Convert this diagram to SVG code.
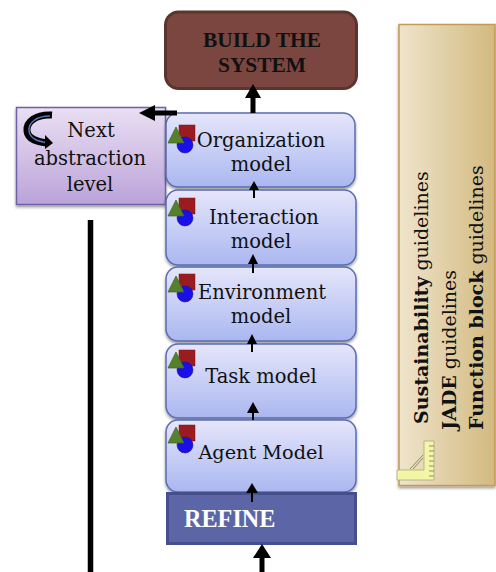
<svg xmlns="http://www.w3.org/2000/svg" width="496" height="572" viewBox="0 0 496 572">
<style>
text{font-family:"DejaVu Serif","Liberation Serif",serif;fill:#111}
.m{font-size:19.500px;text-anchor:middle}
.s{font-size:19.300px;text-anchor:middle}
.box{stroke:#5a6cb0;stroke-width:1.5;fill:url(#blue);filter:url(#sh)}
.con{stroke:#000;fill:none}
.g{font-size:19px}
.b{font-weight:bold}
.h{font-family:"Liberation Serif","DejaVu Serif",serif;font-weight:bold}
</style>
<defs>
<linearGradient id="blue" x1="0" y1="0" x2="0" y2="1"><stop offset="0" stop-color="#e6e6fb"/><stop offset="1" stop-color="#aab7f0"/></linearGradient>
<linearGradient id="purple" x1="0" y1="0" x2="0" y2="1"><stop offset="0" stop-color="#eadff3"/><stop offset="1" stop-color="#bba3d9"/></linearGradient>
<linearGradient id="tan" x1="0" y1="0" x2="1" y2="0"><stop offset="0" stop-color="#efe4cc"/><stop offset="1" stop-color="#d2b97f"/></linearGradient>
<filter id="sh" x="-10%" y="-10%" width="120%" height="125%"><feDropShadow dx="0" dy="2" stdDeviation="1.5" flood-color="#000" flood-opacity=".4"/></filter>
<g id="icon">
<rect x="11" y="0" width="16" height="16" fill="#9b1c20" stroke="#7a1518" stroke-width=".5"/>
<circle cx="17" cy="20" r="8" fill="#1a0fe6" stroke="#10108a" stroke-width=".5"/>
<path d="M8 2 L16 18 L0 18Z" fill="#55802c" stroke="#3f6320" stroke-width=".7"/>
</g>
</defs>
<g id="build"><rect x="165.500" y="12" width="191" height="76.500" rx="13" fill="#7c4640" stroke="#5b3430" stroke-width="3"/>
<text x="262" y="47" text-anchor="middle" class="h" font-size="21.400">BUILD THE</text><text x="262" y="72" text-anchor="middle" class="h" font-size="21.400">SYSTEM</text></g>
<g id="next"><rect x="16.500" y="107.500" width="149" height="97" fill="url(#purple)" stroke="#6c62a8" stroke-width="1.500" filter="url(#sh)"/>
<path d="M52 115 C36 114 26 122 27 131 C28 140 38 142 48 143" fill="none" stroke="#000" stroke-width="7"/>
<path d="M50 116 C36 116 28 123 29 131 C30 139 38 141 47 143" fill="none" stroke="#5b74b8" stroke-width="1.500"/>
<path d="M45 135 L53 143 L45 149Z" fill="#000"/>
<text x="91" y="137" class="m">Next</text><text x="90" y="165" class="m">abstraction</text><text x="90" y="191" class="m">level</text></g>
<g id="org"><rect class="box" x="166" y="113" width="189" height="74" rx="12"/><use href="#icon" x="168" y="125"/><text x="261" y="147" class="m">Organization</text><text x="261" y="171" class="m">model</text></g>
<g id="inter"><rect class="box" x="166" y="190" width="190" height="75" rx="12"/><use href="#icon" x="168" y="198"/><text x="264" y="224" class="m">Interaction</text><text x="261" y="248" class="m">model</text></g>
<g id="env"><rect class="box" x="166" y="267" width="190" height="74" rx="12"/><use href="#icon" x="168" y="274"/><text x="262" y="299" class="m">Environment</text><text x="261" y="323" class="m">model</text></g>
<g id="task"><rect class="box" x="166" y="344" width="190" height="74" rx="12"/><use href="#icon" x="168" y="350"/><text x="261" y="383" class="m">Task model</text></g>
<g id="agent"><rect class="box" x="166" y="420" width="190" height="72" rx="12"/><use href="#icon" x="168" y="425"/><text x="261" y="459" class="s">Agent Model</text></g>
<g id="refine"><rect x="167.500" y="493.500" width="188" height="50" fill="#5c66a6" stroke="#454f8c" stroke-width="3"/><text x="184" y="527" class="h" font-size="24.200" style="fill:#fff">REFINE</text></g>
<g id="guidelines"><rect x="399" y="24.500" width="96" height="461" fill="url(#tan)" stroke="#c49a58" stroke-width="1.500" filter="url(#sh)"/>
<text transform="translate(428 424) rotate(-90)" class="g"><tspan class="b">Sustainability</tspan> guidelines</text>
<text transform="translate(456 430) rotate(-90)" class="g"><tspan class="b">JADE</tspan> guidelines</text>
<text transform="translate(483 430) rotate(-90)" class="g"><tspan class="b">Function block</tspan> guidelines</text>
<path d="M397 470 H424 V441 H434 V480 H397Z" fill="#f5f5a8" stroke="#a8a878" stroke-width=".8"/>
<path d="M410 469 L423 455 M413 469 L423 458" stroke="#8a8a60" fill="none"/>
<path d="M429 446H434M429 451H434M429 456H434M429 461H434M429 466H434M429 471H434M429 476H434" stroke="#666" stroke-width=".7"/></g>
<g id="connectors">
<path class="con" stroke-width="5" d="M253 113V93"/><path d="M253 84L261 98H245Z"/>
<path class="con" stroke-width="5" d="M177 113H152"/><path d="M139 113L155 105V121Z"/>
<path class="con" stroke-width="5.500" d="M90.500 220V572"/>
<path class="con" stroke-width="5" d="M262 572V555"/><path d="M262 544L271 558H253Z"/>
<path class="con" stroke-width="2" d="M254 198V187"/><path d="M254 181L259 190H249Z"/>
<path class="con" stroke-width="2" d="M253 273V261"/><path d="M253 254L258 264H248Z"/>
<path class="con" stroke-width="2" d="M252 352V341"/><path d="M252 334L257 344H247Z"/>
<path class="con" stroke-width="2" d="M253 420V410"/><path d="M253 402L259 413H247Z"/>
<path class="con" stroke-width="2" d="M252 502V490"/><path d="M252 483L258 493H246Z"/>
</g>
</svg>
